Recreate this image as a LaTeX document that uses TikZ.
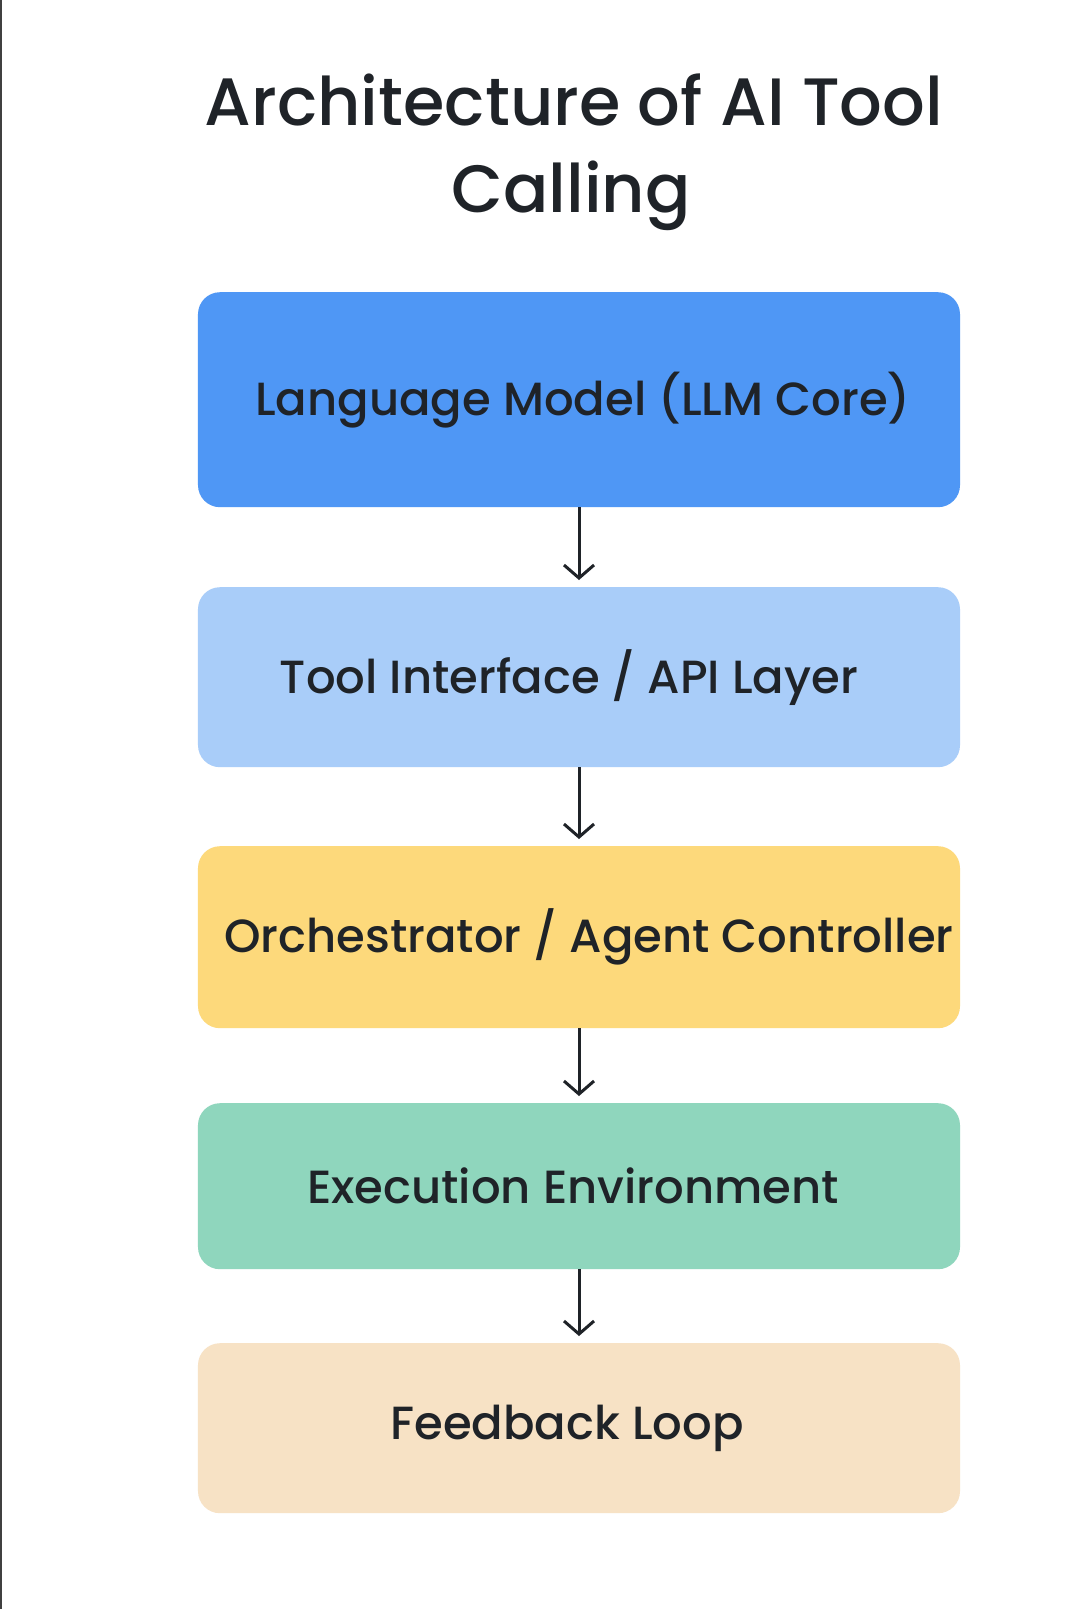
\documentclass[tikz,border=0pt]{standalone}
\usepackage{fontspec}
\setmainfont{Poppins}
\IfFontExistsTF{Poppins Medium}
  {\newfontfamily\medfont{Poppins Medium}}
  {\newfontfamily\medfont[FakeBold=3]{Poppins}}
\usetikzlibrary{arrows.meta}
\definecolor{txt}{HTML}{1F2328}
\definecolor{cblue}{HTML}{4F97F5}
\definecolor{clblue}{HTML}{A9CDF9}
\definecolor{cyellow}{HTML}{FDD97B}
\definecolor{cgreen}{HTML}{8FD6BD}
\definecolor{cpeach}{HTML}{F7E2C5}
\tikzset{
  layer/.style={rounded corners=22bp, minimum width=762bp, text=txt,
    font=\medfont\fontsize{46.5bp}{50bp}\selectfont, inner sep=0pt, anchor=north},
  ttl/.style={font=\medfont\fontsize{67bp}{80bp}\selectfont, text=txt, anchor=base, inner sep=0pt},
  flow/.style={draw=txt, line width=3bp,
    -{Straight Barb[length=13bp, width=30bp, line width=3bp]}, shorten >=7bp}
}
\begin{document}
\begin{tikzpicture}[x=1bp, y=-1bp]
\useasboundingbox (0,0) rectangle (1080,1609);
\fill[white] (0,0) rectangle (1080,1609);
\draw[line width=2.2bp, draw=black!75] (1.1,0) -- (1.1,1609);
\node[ttl] (title1) at (574,125) {Architecture of AI Tool};
\node[ttl] (title2) at (571,212) {Calling};
\node[layer, fill=cblue, minimum height=215bp] (llm) at (579,292) {\kern8bp Language Model (LLM Core)};
\node[layer, fill=clblue, minimum height=180bp] (tool) at (579,587) {Tool Interface / API Layer\kern20bp};
\node[layer, fill=cyellow, minimum height=182bp] (orch) at (579,846) {\kern20bp Orchestrator / Agent Controller};
\node[layer, fill=cgreen, minimum height=166bp] (exec) at (579,1103) {Execution Environment\kern12bp};
\node[layer, fill=cpeach, minimum height=170bp] (fb) at (579,1343) {Feedback Loop\kern24bp};
\draw[flow] (llm.south) -- (tool.north);
\draw[flow] (tool.south) -- (orch.north);
\draw[flow] (orch.south) -- (exec.north);
\draw[flow] (exec.south) -- (fb.north);
\end{tikzpicture}
\end{document}
